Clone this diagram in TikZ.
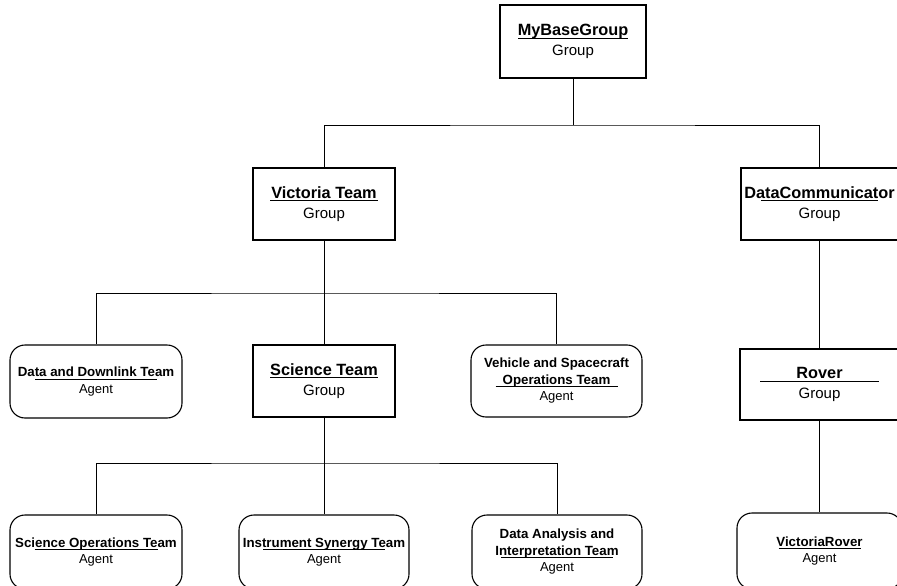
\documentclass[tikz,border=0pt]{standalone}
\usepackage{fontspec}
\setmainfont{Liberation Sans}
\newcommand\ulbox[2]{\makebox[#1]{#2}\llap{\rule[-2.8pt]{#1}{0.8pt}}}
\newcommand\gtitle[2]{{\fontsize{16.3}{19.5}\selectfont\bfseries\ulbox{#1}{#2}}}
\newcommand\atitle[2]{{\fontsize{13.3}{16.5}\selectfont\bfseries\ulbox{#1}{#2}}}
\newcommand\abold[1]{{\fontsize{13.3}{16.5}\selectfont\bfseries #1}}
\begin{document}
\begin{tikzpicture}[x=1pt,y=-1pt,
  grp/.style={draw, line width=1.1pt, align=center, inner sep=0pt,
    font=\fontsize{15}{20}\selectfont},
  agt/.style={draw, line width=1.1pt, rounded corners=15pt, align=center, inner sep=0pt,
    font=\fontsize{13}{16.5}\selectfont},
  conn/.style={line width=0.8pt}]
\useasboundingbox (0,0) rectangle (897,586);

% groups
\node[grp, minimum width=146pt, minimum height=73pt] (base) at (573,41.5)
  {\gtitle{110pt}{MyBaseGroup}\\Group};
\node[grp, minimum width=142pt, minimum height=72pt] (vt) at (324,204)
  {\gtitle{108pt}{Victoria Team}\\Group};
\node[grp, minimum width=157pt, minimum height=72pt] (dc) at (819.5,204)
  {\gtitle{117pt}{DataCommunicator}\\Group};
\node[grp, minimum width=142pt, minimum height=72pt] (sci) at (324,381)
  {\gtitle{108pt}{Science Team}\\Group};
\node[grp, minimum width=159pt, minimum height=71pt] (rov) at (819.5,384.5)
  {\gtitle{119pt}{Rover}\\Group};

% agents
\node[agt, minimum width=172pt, minimum height=73pt] (ddt) at (96,381.5)
  {\atitle{122pt}{Data and Downlink Team}\\Agent};
\node[agt, minimum width=171pt, minimum height=72pt] (veh) at (556.5,381)
  {\abold{Vehicle and Spacecraft}\\\atitle{122pt}{Operations Team}\\Agent};
\node[agt, minimum width=172pt, minimum height=74pt] (sot) at (96,552)
  {\atitle{123pt}{Science Operations Team}\\Agent};
\node[agt, minimum width=170pt, minimum height=74pt] (ist) at (324,552)
  {\atitle{122pt}{Instrument Synergy Team}\\Agent};
\node[agt, minimum width=170pt, minimum height=74pt] (dat) at (557,552)
  {\abold{Data Analysis and}\\\atitle{112pt}{Interpretation Team}\\Agent};
\node[agt, minimum width=165pt, minimum height=76pt] (vr) at (819.5,551)
  {\atitle{82pt}{VictoriaRover}\\Agent};

% connectors
\coordinate (b1) at (573,125);
\coordinate (b2) at (324,293);
\coordinate (b3) at (324,463);
\draw[conn] (base.south) -- (b1);
\draw[conn] (vt.north) |- (b1) -| (dc.north);
\draw[conn] (vt.south) -- (b2);
\draw[conn] (ddt.north) |- (b2) -| (veh.north);
\draw[conn] (b2) -- (sci.north);
\draw[conn] (sci.south) -- (b3);
\draw[conn] (sot.north) |- (b3) -| (dat.north);
\draw[conn] (b3) -- (ist.north);
\draw[conn] (dc.south) -- (rov.north);
\draw[conn] (rov.south) -- (vr.north);
\end{tikzpicture}
\end{document}
